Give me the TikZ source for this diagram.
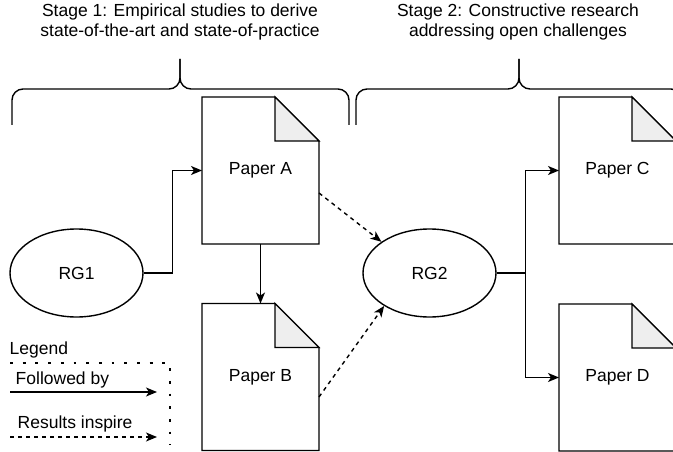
\documentclass[tikz,border=0pt]{standalone}
\usepackage{fontspec}
\setmainfont{Liberation Sans}
\usetikzlibrary{shapes.geometric,arrows.meta}
\definecolor{foldgray}{HTML}{EEEEEE}
\tikzset{every path/.style={black,line width=1.4pt}, every node/.style={font=\fontsize{17.5}{20}\selectfont, inner sep=0pt},
  paper/.style={rectangle, outer sep=0pt, minimum width=117pt, minimum height=147pt},
  rg/.style={ellipse, draw, minimum width=133pt, minimum height=88pt},
  flow/.style={-{Stealth[length=11pt,width=9pt,inset=3pt]}},
  inspire/.style={flow, dash pattern=on 4pt off 4pt},
  legendbox/.style={line width=2.8pt, dash pattern=on 2.8pt off 9.9pt},
  brace/.style={rounded corners=11pt}}

\begin{document}
\begin{tikzpicture}[x=1pt,y=-1pt]
  \useasboundingbox (0,0) rectangle (673,452);
  % stages
  \node[align=center] (stage1) at (180,22) {Stage 1: Empirical studies to derive\\state-of-the-art and state-of-practice};
  \node[align=center] (stage2) at (518,22) {Stage 2: Constructive research\\addressing open challenges};
  \draw[brace] (12,125) -- (12,89) -- (180,89) -- (180,59);
  \draw[brace] (349,125) -- (349,89) -- (180,89) -- (180,59);
  \draw[brace] (356,125) -- (356,89) -- (519,89) -- (519,59);
  \draw[brace] (682,125) -- (682,89) -- (519,89) -- (519,59);
  % papers and research goals
  \node[paper] (pa) at (260.5,170.5) {Paper A};
  \node[paper] (pb) at (260.5,377) {Paper B};
  \node[paper] (pc) at (617.5,170.5) {Paper C};
  \node[paper] (pd) at (617.5,377.5) {Paper D};
  \foreach \p in {pa,pb,pc,pd} {
    \draw (\p.north west) -- ([xshift=-44pt]\p.north east) -- ([yshift=-44pt]\p.north east) -- (\p.south east) -- (\p.south west) -- cycle;
    \draw[fill=foldgray] ([xshift=-44pt]\p.north east) |- ([yshift=-44pt]\p.north east) -- cycle;
  }
  \node[rg] (rg1) at (76.5,273) {RG1};
  \node[rg] (rg2) at (429.5,273) {RG2};
  \draw[flow] (rg1.east) -- ++(29,0) |- (pa.west);
  \draw[flow] (pa.south) -- (pb.north);
  \draw[inspire] ([yshift=-22.5pt]pa.east) -- (rg2.147);
  \draw[inspire] ([yshift=-20pt]pb.east) -- (rg2.216);
  \draw[flow] (rg2.east) -- ++(29,0) |- (pc.west);
  \draw[flow] (rg2.east) -- ++(29,0) |- (pd.west);
  % legend
  \node[anchor=west] (legend) at (9,350) {Legend};
  \coordinate (lg1) at (10,363);
  \draw[legendbox] (lg1) -- ++(160,0) -- ++(0,82);
  \node[anchor=west] (followed) at (15,380) {Followed by};
  \coordinate (fb) at (10,392);
  \draw[flow] (fb) -- ++(147,0);
  \node[anchor=west] (results) at (17,424) {Results inspire};
  \coordinate (ri) at (10,437);
  \draw[inspire] (ri) -- ++(147,0);
\end{tikzpicture}
\end{document}
